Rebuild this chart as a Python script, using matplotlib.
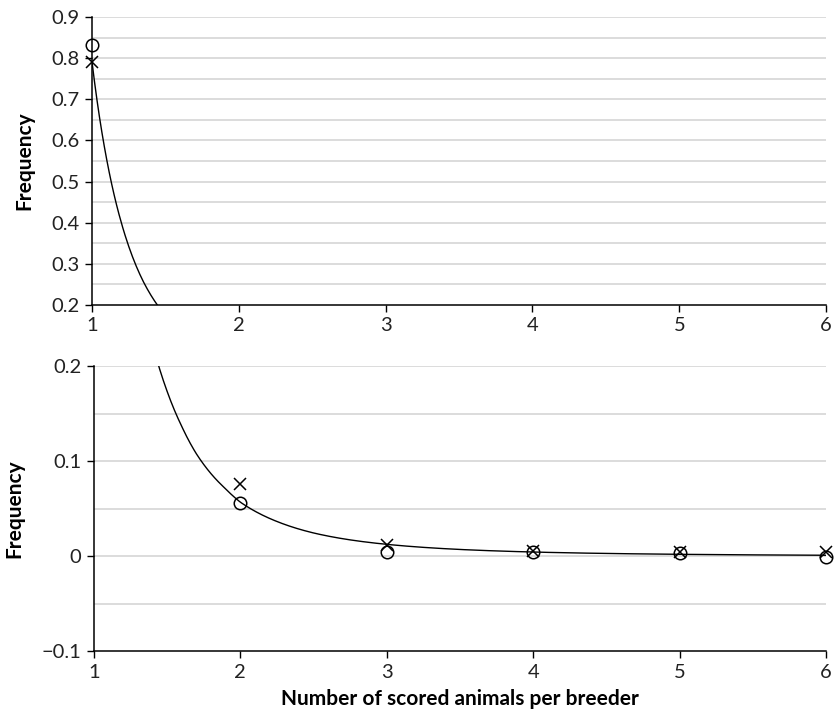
import numpy as np
import matplotlib.pyplot as plt

plt.rcParams['font.family'] = ['Lato', 'DejaVu Sans']

# observed frequencies (circles) and expected (crosses)
n_scored = [1, 2, 3, 4, 5, 6]
freq_obs = [0.833, 0.056, 0.004, 0.004, 0.003, -0.001]
freq_exp = [0.790, 0.076, 0.012, 0.005, 0.004, 0.004]

# fitted curve
curve_x = [1.0, 1.05, 1.1, 1.15, 1.2, 1.25, 1.3, 1.35, 1.4, 1.45, 1.5, 1.6, 1.7,
           1.8, 1.9, 2.0, 2.25, 2.5, 2.75, 3.0, 3.5, 4.0, 4.5, 5.0, 5.5, 6.0]
curve_y = [0.790, 0.658, 0.553, 0.468, 0.399, 0.342, 0.295, 0.256, 0.224, 0.197,
           0.174, 0.137, 0.108, 0.087, 0.071, 0.057, 0.0366, 0.0245, 0.0172, 0.0125,
           0.0071, 0.0044, 0.0029, 0.0020, 0.0014, 0.0010]

fig = plt.figure(figsize=(8.37, 7.14), dpi=100)
ax1 = fig.add_axes([0.110, 0.573, 0.877, 0.403])
ax2 = fig.add_axes([0.112, 0.088, 0.875, 0.399])

# smooth the curve by interpolating in log-log space
xs = np.linspace(1, 6, 600)
ys = np.exp(np.interp(np.log(xs), np.log(curve_x), np.log(curve_y)))

panels = [(ax1, (0.2, 0.9), np.arange(0.2, 0.91, 0.1), np.arange(0.25, 0.9, 0.1)),
          (ax2, (-0.1, 0.2), [-0.1, 0, 0.1, 0.2], [-0.05, 0.05, 0.15])]

for ax, ylim, major, minor in panels:
    for g in list(major[1:]) + list(minor):
        ax.axhline(g, color='#d9d9d9', lw=1.3, zorder=0)
    ax.plot(xs, ys, color='black', lw=1.0, zorder=2)
    lo, hi = ylim
    ox = [x for x, y in zip(n_scored, freq_obs) if lo <= y <= hi]
    oy = [y for y in freq_obs if lo <= y <= hi]
    ex = [x for x, y in zip(n_scored, freq_exp) if lo <= y <= hi]
    ey = [y for y in freq_exp if lo <= y <= hi]
    ax.plot(ox, oy, linestyle='none', marker='o', ms=9, mfc='none',
            mec='black', mew=1.1, zorder=3, clip_on=False)
    ax.plot(ex, ey, linestyle='none', marker='x', ms=9,
            color='black', mew=1.1, zorder=3, clip_on=False)
    ax.set_xlim(1, 6)
    ax.set_ylim(*ylim)
    ax.set_xticks([1, 2, 3, 4, 5, 6])
    ax.set_yticks(major)
    ax.spines['top'].set_visible(False)
    ax.spines['right'].set_visible(False)
    ax.spines['left'].set_linewidth(1.1)
    ax.spines['bottom'].set_linewidth(1.1)
    ax.tick_params(direction='out', length=5, width=1.0, labelsize=14.5,
                   colors='black', labelcolor='#222222', pad=4)
    ax.set_ylabel('Frequency', fontsize=15, fontweight='bold', labelpad=12)

ax1.set_yticklabels(['0.2', '0.3', '0.4', '0.5', '0.6', '0.7', '0.8', '0.9'])
ax2.set_yticklabels(['\u22120.1', '0', '0.1', '0.2'])
ax2.set_xlabel('Number of scored animals per breeder', fontsize=15,
               fontweight='bold', labelpad=6)

fig.savefig('out.png', dpi=100)
